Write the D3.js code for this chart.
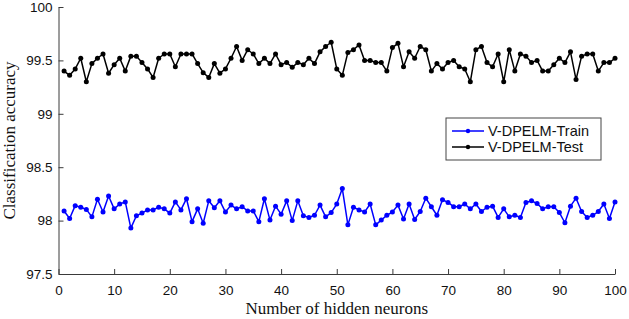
<!DOCTYPE html>
<html>
<head>
<meta charset="utf-8">
<script src="https://cdn.jsdelivr.net/npm/d3@7"></script>
<style>
  body { margin: 0; background: #fff; }
  .chart svg { display: block; }
</style>
</head>
<body>
<div class="chart"></div>
<script>
// number of hidden neurons (x values)
var neurons = [1, 2, 3, 4, 5, 6, 7, 8, 9, 10, 11, 12, 13, 14, 15, 16, 17, 18, 19, 20,
    21, 22, 23, 24, 25, 26, 27, 28, 29, 30, 31, 32, 33, 34, 35, 36, 37, 38, 39, 40,
    41, 42, 43, 44, 45, 46, 47, 48, 49, 50, 51, 52, 53, 54, 55, 56, 57, 58, 59, 60,
    61, 62, 63, 64, 65, 66, 67, 68, 69, 70, 71, 72, 73, 74, 75, 76, 77, 78, 79, 80,
    81, 82, 83, 84, 85, 86, 87, 88, 89, 90, 91, 92, 93, 94, 95, 96, 97, 98, 99, 100];

var trainAcc = [98.09, 98.02, 98.14, 98.125, 98.105, 98.035, 98.20, 98.08, 98.23, 98.11,
    98.155, 98.175, 97.93, 98.045, 98.07, 98.10, 98.10, 98.125, 98.11, 98.07,
    98.175, 98.10, 98.205, 97.99, 98.11, 97.975, 98.185, 98.12, 98.185, 98.08,
    98.145, 98.11, 98.13, 98.09, 98.09, 97.99, 98.205, 98.005, 98.135, 98.06,
    98.185, 98.00, 98.185, 98.045, 98.03, 98.05, 98.145, 98.035, 98.075, 98.155,
    98.30, 97.96, 98.125, 98.10, 98.08, 98.155, 97.96, 98.005, 98.05, 98.08,
    98.145, 98.015, 98.155, 98.01, 98.085, 98.21, 98.13, 98.05, 98.195, 98.17,
    98.13, 98.13, 98.155, 98.11, 98.155, 98.085, 98.125, 98.135, 98.03, 98.11,
    98.035, 98.05, 98.03, 98.17, 98.185, 98.16, 98.11, 98.13, 98.13, 98.075,
    97.98, 98.135, 98.21, 98.085, 98.03, 98.05, 98.085, 98.155, 98.02, 98.175];

var testAcc = [99.40, 99.36, 99.42, 99.52, 99.30, 99.47, 99.52, 99.56, 99.38, 99.46,
    99.52, 99.40, 99.54, 99.54, 99.48, 99.42, 99.34, 99.52, 99.56, 99.56,
    99.44, 99.56, 99.56, 99.56, 99.47, 99.385, 99.34, 99.47, 99.38, 99.42,
    99.52, 99.63, 99.50, 99.60, 99.56, 99.47, 99.52, 99.47, 99.56, 99.46,
    99.48, 99.435, 99.48, 99.46, 99.52, 99.47, 99.58, 99.63, 99.67, 99.42,
    99.36, 99.575, 99.60, 99.645, 99.50, 99.50, 99.48, 99.48, 99.40, 99.62,
    99.66, 99.44, 99.58, 99.52, 99.63, 99.60, 99.40, 99.47, 99.42, 99.48,
    99.50, 99.44, 99.42, 99.30, 99.60, 99.63, 99.48, 99.44, 99.56, 99.30,
    99.60, 99.40, 99.56, 99.54, 99.48, 99.50, 99.40, 99.40, 99.46, 99.52,
    99.48, 99.58, 99.32, 99.54, 99.56, 99.56, 99.40, 99.48, 99.48, 99.52];

var xTicks = [0, 10, 20, 30, 40, 50, 60, 70, 80, 90, 100];
var yTicks = [97.5, 98, 98.5, 99, 99.5, 100];

var seriesNames = ["V-DPELM-Train", "V-DPELM-Test"];
var seriesColors = ["#0000ff", "#000000"];

var width = 629,
    height = 319;
var margin = { top: 7, right: 14, bottom: 45, left: 58.5 };

var svg = d3.select(".chart").append("svg")
    .attr("width", width)
    .attr("height", height);

var xScale = d3.scaleLinear()
    .domain([0, 100])
    .range([margin.left, width - margin.right]);

var yScale = d3.scaleLinear()
    .domain([97.5, 100])
    .range([height - margin.bottom, margin.top]);

var axisColor = "#3a3a3a";
var sans = "'Liberation Sans', Arial, sans-serif";
var serif = "'Liberation Serif', 'Times New Roman', serif";

// x axis, ticks pointing inward
svg.append("g")
    .attr("transform", `translate(0, ${yScale(97.5)})`)
    .call(d3.axisBottom(xScale)
        .tickValues(xTicks)
        .tickSizeInner(-5)
        .tickSizeOuter(0)
        .tickPadding(11))
    .call(g => g.selectAll("path, line").attr("stroke", axisColor))
    .call(g => g.selectAll("text")
        .attr("fill", "#111")
        .style("font-family", sans)
        .style("font-size", "13.5px"));

// y axis
svg.append("g")
    .attr("transform", `translate(${xScale(0)}, 0)`)
    .call(d3.axisLeft(yScale)
        .tickValues(yTicks)
        .tickFormat(d3.format("~g"))
        .tickSizeInner(-5)
        .tickSizeOuter(0)
        .tickPadding(6))
    .call(g => g.selectAll("path, line").attr("stroke", axisColor))
    .call(g => g.selectAll("text")
        .attr("fill", "#111")
        .style("font-family", sans)
        .style("font-size", "13.5px"));

// axis titles
svg.append("text")
    .attr("x", (xScale(0) + xScale(100)) / 2)
    .attr("y", 314)
    .attr("text-anchor", "middle")
    .style("font-family", serif)
    .style("font-size", "17px")
    .attr("fill", "#111")
    .text("Number of hidden neurons");

svg.append("text")
    .attr("transform", `translate(15, ${(yScale(97.5) + yScale(100)) / 2}) rotate(-90)`)
    .attr("text-anchor", "middle")
    .style("font-family", serif)
    .style("font-size", "17px")
    .attr("fill", "#111")
    .text("Classification accuracy");

// lines + markers
var line = d3.line()
    .x((d, i) => xScale(neurons[i]))
    .y(d => yScale(d));

[trainAcc, testAcc].forEach(function(values, k) {
    svg.append("path")
        .datum(values)
        .attr("fill", "none")
        .attr("stroke", seriesColors[k])
        .attr("stroke-width", 1.5)
        .attr("stroke-linejoin", "round")
        .attr("d", line);

    svg.append("g")
        .selectAll("circle")
        .data(values)
        .join("circle")
        .attr("cx", (d, i) => xScale(neurons[i]))
        .attr("cy", d => yScale(d))
        .attr("r", 2.5)
        .attr("fill", seriesColors[k]);
});

// legend
var legend = svg.append("g")
    .attr("transform", "translate(446, 118)");

legend.append("rect")
    .attr("width", 155)
    .attr("height", 42)
    .attr("fill", "#fff")
    .attr("stroke", "#444")
    .attr("stroke-width", 1);

seriesNames.forEach(function(name, k) {
    var yy = 13 + k * 16;
    legend.append("line")
        .attr("x1", 6)
        .attr("x2", 38)
        .attr("y1", yy)
        .attr("y2", yy)
        .attr("stroke", seriesColors[k])
        .attr("stroke-width", 1.5);
    legend.append("circle")
        .attr("cx", 22)
        .attr("cy", yy)
        .attr("r", 2.2)
        .attr("fill", seriesColors[k]);
    legend.append("text")
        .attr("x", 42)
        .attr("y", yy)
        .attr("dy", "0.35em")
        .style("font-family", sans)
        .style("font-size", "14.5px")
        .attr("fill", "#111")
        .text(name);
});
</script>
</body>
</html>
